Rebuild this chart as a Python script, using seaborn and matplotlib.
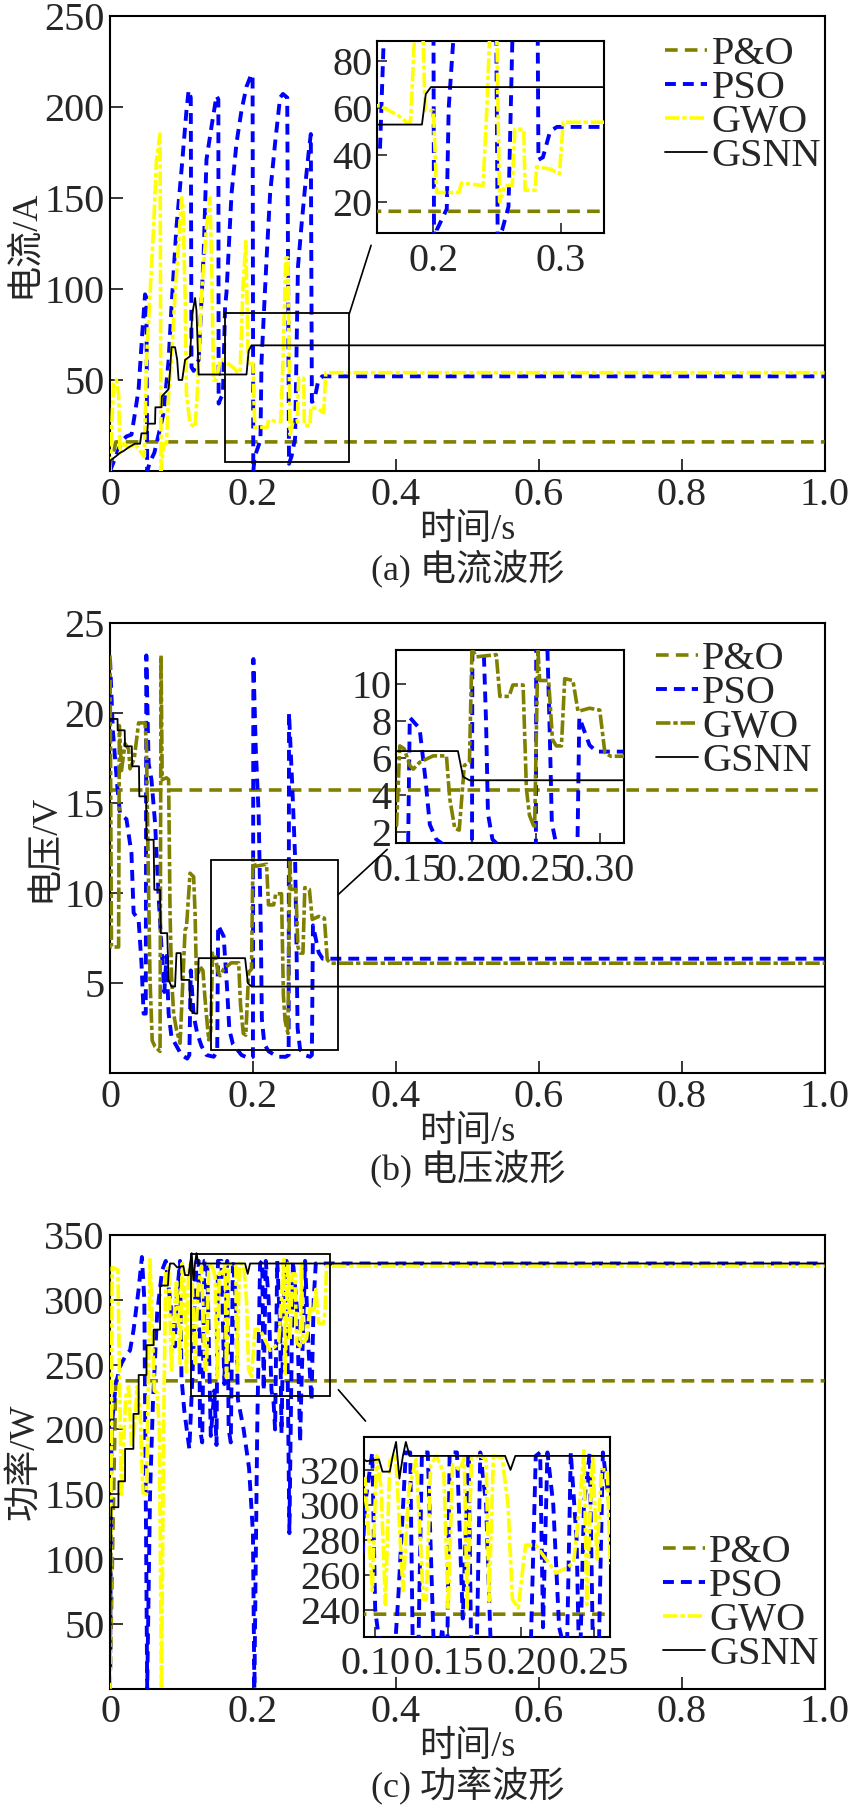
import matplotlib
matplotlib.use('Agg')
import matplotlib.pyplot as plt
from matplotlib.patches import Rectangle, ConnectionPatch
import seaborn as sns

# (a) 电流 / A
t_po_a = [0, 0.008, 1.0]
v_po_a = [0, 16, 16]
t_pso_a = [0, 0.005, 0.012, 0.018, 0.023, 0.030, 0.035, 0.040, 0.045, 0.049, 0.051, 0.052, 0.056, 0.062,
           0.068, 0.075, 0.082, 0.086, 0.093, 0.100, 0.107, 0.110, 0.113, 0.114, 0.117, 0.124, 0.131, 0.135,
           0.142, 0.149, 0.1516, 0.152, 0.155, 0.158, 0.161, 0.163, 0.170, 0.177, 0.184, 0.191, 0.198, 0.1995,
           0.2005, 0.2026, 0.2105, 0.212, 0.219, 0.224, 0.231, 0.238, 0.242, 0.248, 0.2505, 0.254, 0.259,
           0.263, 0.268, 0.273, 0.278, 0.281, 0.2825, 0.286, 0.2916, 0.297, 1.0]
v_pso_a = [0, 5, 12, 17, 19, 20, 32, 45, 75, 97, 95, 0, 5, 10, 20, 32, 61, 90, 134, 165, 198, 209, 205, 57,
           55, 61, 119, 171, 189, 206, 204, 37, 40, 42, 90, 98, 152, 180, 198, 211, 218, 216, 0, 8, 17, 60,
           116, 152, 180, 205, 207, 205, 4, 8, 18, 112, 135, 156, 175, 185, 38, 39, 50, 52, 52]
t_gwo_a = [0, 0.003, 0.005, 0.009, 0.012, 0.014, 0.019, 0.026, 0.035, 0.040, 0.044, 0.048, 0.051, 0.056,
           0.061, 0.065, 0.070, 0.0714, 0.075, 0.079, 0.082, 0.086, 0.091, 0.096, 0.100, 0.102, 0.105, 0.107,
           0.112, 0.119, 0.122, 0.128, 0.135, 0.140, 0.142, 0.145, 0.149, 0.154, 0.158, 0.165, 0.172, 0.179,
           0.182, 0.186, 0.190, 0.1935, 0.200, 0.2026, 0.220, 0.222, 0.239, 0.242, 0.246, 0.249, 0.252,
           0.256, 0.262, 0.264, 0.271, 0.272, 0.280, 0.281, 0.292, 0.299, 0.302, 1.0]
v_gwo_a = [0, 30, 48, 50, 42, 10, 15, 13, 15, 12, 10, 8, 61, 97, 134, 171, 185, 0, 15, 15, 42, 61, 97, 125,
           150, 145, 97, 42, 26, 24, 42, 97, 134, 150, 116, 50, 50, 61, 61, 59, 57, 54, 54, 100, 126, 59, 59,
           24, 24, 28, 27, 60, 117, 117, 20, 27, 27, 51, 51, 25, 25, 35, 34, 32, 54, 54]
t_gsnn_a = [0, 0.001, 0.008, 0.014, 0.019, 0.026, 0.035, 0.042, 0.044, 0.052, 0.053, 0.063, 0.0635, 0.072,
            0.0725, 0.082, 0.084, 0.086, 0.091, 0.094, 0.096, 0.101, 0.105, 0.112, 0.115, 0.119, 0.121,
            0.124, 0.191, 0.194, 0.198, 1.0]
v_gsnn_a = [0, 6, 8, 10, 11, 13, 15, 15, 20.7, 20.7, 26, 26, 35, 35, 41, 45, 55, 68, 68, 61, 50, 50, 61, 63,
            86, 95, 88, 53, 53, 66, 69, 69]

# (b) 电压 / V
t_po_b = [0, 1.0]
v_po_b = [15.7, 15.7]
t_pso_b = [0, 0.004, 0.010, 0.014, 0.023, 0.030, 0.033, 0.040, 0.044, 0.047, 0.0500, 0.0508, 0.054, 0.058,
           0.063, 0.068, 0.072, 0.076, 0.079, 0.082, 0.086, 0.093, 0.100, 0.108, 0.111, 0.113, 0.117, 0.122,
           0.128, 0.135, 0.145, 0.150, 0.1513, 0.159, 0.1635, 0.167, 0.172, 0.184, 0.195, 0.2000, 0.2006,
           0.204, 0.208, 0.211, 0.2125, 0.216, 0.222, 0.235, 0.246, 0.2500, 0.2505, 0.255, 0.259, 0.261,
           0.2625, 0.266, 0.272, 0.280, 0.2825, 0.284, 0.292, 0.2975, 1.0]
v_pso_b = [23.0, 19.0, 16.0, 14.4, 14.1, 12.2, 8.9, 8.5, 6.1, 3.3, 3.3, 23.2, 17.2, 16.3, 13.9, 9.8, 7.0,
           4.5, 6.5, 3.3, 2.0, 1.5, 1.0, 0.8, 1.0, 5.7, 3.2, 2.2, 1.5, 1.0, 0.9, 1.2, 8.2, 7.6, 4.9, 2.4, 1.6,
           1.0, 0.8, 0.9, 23.0, 18.0, 14.4, 8.0, 3.0, 1.6, 1.2, 0.9, 0.9, 1.0, 20.0, 16.0, 12.0, 7.0, 2.5,
           1.3, 1.0, 0.9, 1.0, 8.2, 6.7, 6.35, 6.35]
t_gwo_b = [0, 0.002, 0.004, 0.012, 0.013, 0.016, 0.021, 0.026, 0.028, 0.034, 0.040, 0.049, 0.051, 0.053,
           0.056, 0.059, 0.063, 0.070, 0.0714, 0.073, 0.079, 0.082, 0.084, 0.086, 0.089, 0.093, 0.098, 0.102,
           0.105, 0.107, 0.112, 0.117, 0.119, 0.121, 0.126, 0.130, 0.133, 0.138, 0.141, 0.1435, 0.147,
           0.1513, 0.154, 0.159, 0.1696, 0.18, 0.1826, 0.1865, 0.190, 0.194, 0.198, 0.200, 0.2035, 0.219,
           0.2218, 0.229, 0.232, 0.240, 0.2426, 0.245, 0.249, 0.2516, 0.253, 0.260, 0.263, 0.266, 0.270,
           0.2726, 0.279, 0.283, 0.292, 0.300, 0.304, 0.3085, 1.0]
v_gwo_b = [23.2, 7.0, 7.0, 7.0, 19.3, 16.8, 18.3, 18.0, 16.9, 17.5, 19.45, 19.45, 18.2, 12.6, 5.2, 1.8,
           1.46, 1.2, 23.2, 16.3, 16.4, 16.3, 8.9, 5.4, 3.3, 2.4, 1.65, 5.2, 7.95, 8.1, 11.1, 10.9, 8.9, 5.2,
           5.9, 5.7, 4.1, 1.84, 2.37, 6.66, 6.5, 5.6, 5.4, 5.77, 6.12, 6.12, 3.8, 2.2, 2.1, 5.6, 5.77, 11.9,
           11.48, 11.6, 9.34, 9.34, 9.96, 9.96, 4.34, 2.9, 2.2, 11.9, 10.2, 10.2, 7.0, 6.66, 6.66, 10.3, 10.2,
           8.53, 8.7, 8.6, 6.3, 6.1, 6.1]
t_gsnn_b = [0, 0.0105, 0.0107, 0.0205, 0.021, 0.0305, 0.031, 0.0405, 0.041, 0.0505, 0.051, 0.061, 0.062,
            0.070, 0.071, 0.080, 0.082, 0.086, 0.091, 0.093, 0.099, 0.100, 0.111, 0.112, 0.119, 0.122, 0.124,
            0.189, 0.193, 0.198, 1.0]
v_gsnn_b = [19.67, 19.67, 19.04, 19.04, 18.15, 18.15, 17.04, 17.04, 15.37, 15.37, 12.96, 12.96, 10.18,
            10.18, 7.77, 7.77, 5.17, 4.8, 4.8, 6.66, 6.66, 5.17, 5.17, 3.5, 3.3, 3.3, 6.38, 6.38, 4.99, 4.8,
            4.8]

# (c) 功率 / W
t_po_c = [0, 0.008, 1.0]
v_po_c = [0, 237.5, 237.5]
t_pso_c = [0, 0.002, 0.008, 0.015, 0.021, 0.028, 0.033, 0.040, 0.0446, 0.048, 0.052, 0.056, 0.060, 0.066,
           0.073, 0.078, 0.084, 0.091, 0.093, 0.098, 0.100, 0.104, 0.111, 0.116, 0.121, 0.124, 0.126, 0.129,
           0.132, 0.136, 0.141, 0.146, 0.149, 0.151, 0.156, 0.160, 0.164, 0.166, 0.169, 0.172, 0.176, 0.179,
           0.187, 0.1946, 0.200, 0.202, 0.206, 0.210, 0.213, 0.215, 0.218, 0.222, 0.226, 0.229, 0.231, 0.234,
           0.238, 0.240, 0.243, 0.247, 0.251, 0.254, 0.256, 0.262, 0.266, 0.268, 0.273, 0.278, 0.282, 0.285,
           0.288, 1.0]
v_pso_c = [0, 200, 235, 250, 256, 261, 277, 308, 333, 300, 0, 150, 220, 290, 323, 330, 300, 264, 300, 330,
           240, 214, 185, 250, 330, 330, 200, 190, 330, 330, 195, 230, 188, 330, 330, 235, 330, 200, 190, 330,
           300, 223, 200, 170, 120, 0, 200, 328, 330, 230, 330, 300, 230, 220, 200, 330, 280, 197, 300, 330,
           120, 250, 330, 290, 190, 235, 330, 260, 222, 300, 328, 328]
t_gwo_c = [0, 0.003, 0.011, 0.013, 0.016, 0.019, 0.022, 0.026, 0.030, 0.034, 0.038, 0.042, 0.046, 0.051,
           0.054, 0.056, 0.058, 0.062, 0.066, 0.069, 0.072, 0.075, 0.078, 0.082, 0.086, 0.089, 0.093, 0.098,
           0.101, 0.104, 0.107, 0.110, 0.114, 0.119, 0.123, 0.128, 0.133, 0.135, 0.138, 0.142, 0.147, 0.150,
           0.153, 0.158, 0.161, 0.163, 0.166, 0.172, 0.176, 0.178, 0.181, 0.187, 0.191, 0.194, 0.198, 0.203,
           0.210, 0.217, 0.224, 0.231, 0.236, 0.240, 0.243, 0.245, 0.247, 0.249, 0.252, 0.255, 0.259, 0.261,
           0.266, 0.268, 0.270, 0.275, 0.280, 0.285, 0.288, 0.292, 0.299, 0.301, 0.303, 1.0]
v_gwo_c = [0, 325, 323, 250, 148, 189, 225, 233, 187, 200, 233, 215, 151, 150, 250, 331, 300, 230, 228, 200,
           0, 200, 323, 325, 246, 280, 315, 251, 328, 310, 243, 325, 329, 251, 308, 326, 246, 246, 323, 328,
           318, 240, 323, 320, 327, 240, 327, 328, 326, 245, 328, 327, 300, 246, 241, 277, 277, 269, 261, 264,
           267, 300, 331, 243, 290, 328, 269, 320, 320, 267, 264, 328, 267, 270, 295, 290, 308, 282, 282, 292,
           326, 326]
t_gsnn_c = [0, 0.002, 0.0117, 0.0118, 0.021, 0.0211, 0.0327, 0.0328, 0.040, 0.0401, 0.051, 0.0511, 0.061,
            0.0611, 0.070, 0.0701, 0.081, 0.082, 0.084, 0.089, 0.094, 0.1026, 0.105, 0.110, 0.112, 0.1143,
            0.1166, 0.119, 0.121, 0.1236, 0.189, 0.1927, 0.196, 1.0]
v_gsnn_c = [5, 140, 140, 160, 160, 185, 185, 212, 212, 242, 242, 265, 265, 277, 277, 311, 311, 320, 328,
            328, 325, 326, 319, 319, 328, 336, 315, 328, 336, 328, 328, 320, 328, 328]

nomes = ['P&O', 'PSO', 'GWO', 'GSNN']
cor_po, cor_pso, cor_amarelo, cor_gsnn = '#808000', '#0000ff', '#ffff00', 'black'

sns.set_style('ticks')
plt.rcParams['font.family'] = ['Liberation Serif', 'Noto Sans CJK SC']
plt.rcParams['axes.unicode_minus'] = False
FS = 26    # textos em chines
FT = 29    # numeros e legenda

fig = plt.figure(figsize=(8.49, 18.18), dpi=100)


def desenha(ax, dados, cor_gwo, com_label):
    estilos = [
        (cor_po, (0, (3.5, 2.0)), 2.6),
        (cor_pso, (0, (2.8, 1.8)), 2.8),
        (cor_gwo, (0, (4, 0.8, 1.2, 0.8)), 2.6),
        (cor_gsnn, '-', 1.3),
    ]
    ordem = [1, 2, 0, 3]
    for i in ordem:
        t, v = dados[i]
        cor, ls, lw = estilos[i]
        sns.lineplot(x=t, y=v, ax=ax, color=cor, linestyle=ls, linewidth=lw, sort=False,
                     estimator=None, label=nomes[i] if com_label else None, zorder=3 + i)


def painel(rect, dados, cor_gwo, ylim, yticks, ylabel, legenda, zoom, conexao, legpos):
    ax = fig.add_axes(rect)
    desenha(ax, dados, cor_gwo, True)
    ax.set_xlim(0, 1)
    ax.set_ylim(*ylim)
    ax.set_yticks(yticks)
    ax.set_xticks([0, 0.2, 0.4, 0.6, 0.8, 1.0])
    ax.set_xticklabels(['0', '0.2', '0.4', '0.6', '0.8', '1.0'])
    ax.tick_params(direction='in', length=9, width=1.3, labelsize=FT, pad=4)
    for s in ax.spines.values():
        s.set_linewidth(1.5)
        s.set_color('black')
    ax.set_ylabel(ylabel, fontsize=FS, labelpad=2)
    ax.set_xlabel('时间/s', fontsize=FS, labelpad=0)
    ax.text(0.5, -0.215, legenda, transform=ax.transAxes, ha='center', va='center', fontsize=FS)

    h, l = ax.get_legend_handles_labels()
    ordem_leg = [l.index(n) for n in nomes]
    ax.legend([h[k] for k in ordem_leg], nomes, loc=legpos[0], bbox_to_anchor=legpos[1], frameon=False,
              fontsize=FT, handlelength=1.05, handletextpad=0.1, labelspacing=-0.08,
              borderaxespad=0, borderpad=0)

    # retangulo da area ampliada
    (x0, x1, y0, y1), pos_ins, lim_ins, ticks_ins = zoom
    ax.add_patch(Rectangle((x0, y0), x1 - x0, y1 - y0, fill=False, edgecolor='black', lw=1.3, zorder=10))
    ins = ax.inset_axes(pos_ins)
    ins.patch.set_alpha(0)
    desenha(ins, dados, cor_gwo, False)
    ins.set_xlim(*lim_ins[0])
    ins.set_ylim(*lim_ins[1])
    ins.set_xticks(ticks_ins[0])
    ins.set_xticklabels(ticks_ins[2])
    ins.set_yticks(ticks_ins[1])
    ins.tick_params(direction='in', length=7, width=1.2, labelsize=FT, pad=3)
    ins.tick_params(axis='x', pad=7)
    ins.set_xlabel('')
    ins.set_ylabel('')
    for s in ins.spines.values():
        s.set_linewidth(1.5)
        s.set_color('black')
    con = ConnectionPatch(xyA=conexao[0], coordsA=ax.transData, xyB=conexao[1], coordsB=ins.transAxes,
                          color='black', lw=1.2)
    fig.add_artist(con)
    return ax


painel([0.1296, 0.7409, 0.8416, 0.2505],
       [(t_po_a, v_po_a), (t_pso_a, v_pso_a), (t_gwo_a, v_gwo_a), (t_gsnn_a, v_gsnn_a)],
       cor_amarelo, (0, 250), [50, 100, 150, 200, 250], '电流/A', '(a) 电流波形',
       ((0.161, 0.335, 5, 86.5), [0.3733, 0.523, 0.318, 0.421], ((0.1555, 0.334), (6.8, 88.6)),
        ([0.2, 0.3], [20, 40, 60, 80], ['0.2', '0.3'])),
       ((0.335, 86.5), (-0.025, -0.065)),
       ('upper right', (0.995, 0.955)))

painel([0.1296, 0.4098, 0.8416, 0.2475],
       [(t_po_b, v_po_b), (t_pso_b, v_pso_b), (t_gwo_b, v_gwo_b), (t_gsnn_b, v_gsnn_b)],
       cor_po, (0, 25), [5, 10, 15, 20, 25], '电压/V', '(b) 电压波形',
       ((0.142, 0.3196, 1.3, 11.85), [0.400, 0.511, 0.319, 0.429], ((0.1404, 0.3188), (1.4, 11.85)),
        ([0.15, 0.20, 0.25, 0.30], [2, 4, 6, 8, 10], ['0.15', '0.20', '0.25', '0.30'])),
       ((0.319, 9.9), (-0.038, -0.033)),
       ('upper right', (0.982, 0.96)))

painel([0.1296, 0.0711, 0.8416, 0.2496],
       [(t_po_c, v_po_c), (t_pso_c, v_pso_c), (t_gwo_c, v_gwo_c), (t_gsnn_c, v_gsnn_c)],
       cor_amarelo, (0, 350), [50, 100, 150, 200, 250, 300, 350], '功率/W', '(c) 功率波形',
       ((0.1135, 0.3075, 225.5, 335), [0.356, 0.115, 0.344, 0.4405], ((0.0926, 0.261), (224.7, 339)),
        ([0.10, 0.15, 0.20, 0.25], [240, 260, 280, 300, 320], ['0.10', '0.15', '0.20', '0.25'])),
       ((0.3196, 230.6), (0.0045, 1.078)),
       ('lower right', (0.992, 0.035)))

fig.savefig('out.png', dpi=100)
